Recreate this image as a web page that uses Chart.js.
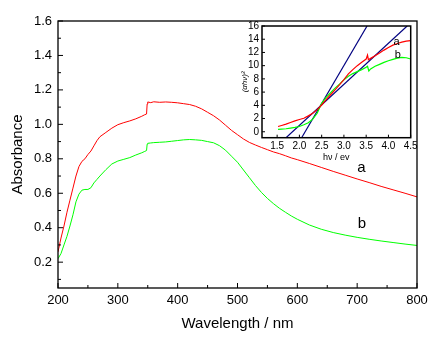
<!DOCTYPE html>
<html><head><meta charset="utf-8">
<script src="https://cdn.jsdelivr.net/npm/chart.js@4"></script>
<style>
html,body{margin:0;padding:0;background:#fff;}
#wrap{position:relative;width:444px;height:342px;overflow:hidden;}
#main{position:absolute;left:0;top:0;}
#inset{position:absolute;left:230px;top:14px;}
</style></head><body>
<div id="wrap"><canvas id="main" width="444" height="342"></canvas><canvas id="inset" width="200" height="150"></canvas></div>
<script>
// ---------- main chart data ----------
const wavelength = [200,205,210,215,220,225,230,235,240,245,250,255,260,265,270,280,290,300,310,320,330,340,345,348,349,350,355,360,370,380,390,400,410,420,430,440,450,460,470,480,490,500,510,520,530,540,550,560,570,580,590,600,620,640,660,680,700,720,740,760,780,800];
const absA = [0.26,0.34,0.41,0.49,0.56,0.63,0.70,0.755,0.785,0.80,0.825,0.845,0.875,0.905,0.928,0.953,0.978,0.998,1.010,1.020,1.032,1.047,1.056,1.060,1.118,1.130,1.126,1.131,1.128,1.130,1.128,1.125,1.120,1.115,1.105,1.090,1.070,1.050,1.025,0.995,0.965,0.940,0.915,0.895,0.880,0.866,0.853,0.840,0.830,0.818,0.805,0.795,0.773,0.750,0.727,0.705,0.683,0.662,0.640,0.620,0.600,0.579];
const absB = [0.22,0.25,0.30,0.35,0.41,0.475,0.55,0.595,0.618,0.622,0.622,0.632,0.66,0.68,0.70,0.737,0.770,0.787,0.797,0.807,0.822,0.835,0.843,0.848,0.885,0.890,0.892,0.894,0.896,0.898,0.902,0.906,0.910,0.912,0.910,0.907,0.900,0.893,0.876,0.850,0.815,0.780,0.735,0.690,0.645,0.605,0.570,0.540,0.513,0.490,0.468,0.449,0.416,0.391,0.372,0.357,0.344,0.333,0.323,0.314,0.305,0.297];
const xTicks = [200,300,400,500,600,700,800];
const xMinorTicks = [250,350,450,550,650,750];
const yTicks = [0.2,0.4,0.6,0.8,1.0,1.2,1.4,1.6];
const yMinorTicks = [0.1,0.3,0.5,0.7,0.9,1.1,1.3,1.5];
const mainLabels = [{t:'a', x:707, y:0.745}, {t:'b', x:708, y:0.42}];

// ---------- inset data ----------
const hvA = [1.52,1.6,1.7,1.8,1.9,2.0,2.1,2.2,2.3,2.4,2.5,2.6,2.7,2.8,2.9,3.0,3.1,3.2,3.3,3.4,3.5,3.53,3.55,3.6,3.7,3.8,3.9,4.0,4.1,4.2,4.3,4.4,4.5];
const taucA = [0.8,0.95,1.15,1.4,1.65,1.85,2.05,2.4,2.8,3.35,4.05,4.85,5.6,6.35,7.1,7.9,8.75,9.4,10.0,10.5,11.0,11.6,10.9,11.1,11.5,11.9,12.35,12.75,13.1,13.35,13.55,13.7,13.8];
const hvB = [1.52,1.6,1.7,1.8,1.9,2.0,2.1,2.2,2.3,2.4,2.5,2.6,2.7,2.8,2.9,3.0,3.1,3.2,3.3,3.4,3.5,3.53,3.56,3.6,3.7,3.8,3.9,4.0,4.1,4.2,4.3,4.4,4.5];
const taucB = [0.35,0.4,0.45,0.55,0.65,0.8,1.05,1.35,1.9,2.8,4.3,5.2,5.9,6.6,7.2,7.85,8.4,8.8,9.1,9.4,9.75,9.9,9.2,9.5,9.9,10.2,10.5,10.75,10.95,11.15,11.25,11.2,11.0];
const fitSteepHv = [2.05,3.52];
const fitSteepY = [-0.9,16];
const fitShallowHv = [1.70,4.42];
const fitShallowY = [-0.9,16];
const insetXTicks = [1.5,2.0,2.5,3.0,3.5,4.0,4.5];
const insetYTicks = [0,2,4,6,8,10,12,14,16];
const insetLabels = [{t:'a', x:4.18, y:13.6}, {t:'b', x:4.21, y:11.6}];

const FONT = "'Liberation Sans', Arial, sans-serif";
const pts = (xs, ys) => xs.map((x,i)=>({x, y: ys[i]}));

const frameTicks = {
  id: 'frameTicks',
  afterDatasetsDraw(chart, args, o) {
    const {ctx, chartArea: a} = chart;
    const xs = chart.scales.x, ys = chart.scales.y;
    ctx.save();
    ctx.strokeStyle = '#000';
    ctx.lineWidth = o.lw;
    ctx.beginPath();
    const seg = (x1,y1,x2,y2)=>{ctx.moveTo(x1,y1);ctx.lineTo(x2,y2);};
    o.xMajor.forEach(v=>{const p=xs.getPixelForValue(v); seg(p,a.bottom,p,a.bottom-o.major);});
    o.xMinor.forEach(v=>{const p=xs.getPixelForValue(v); seg(p,a.bottom,p,a.bottom-o.minor);});
    o.yMajor.forEach(v=>{const p=ys.getPixelForValue(v); seg(a.left,p,a.left+o.major,p);});
    o.yMinor.forEach(v=>{const p=ys.getPixelForValue(v); seg(a.left,p,a.left+o.minor,p);});
    ctx.stroke();
    ctx.lineWidth = o.frame;
    ctx.strokeRect(a.left, a.top, a.right-a.left, a.bottom-a.top);
    ctx.fillStyle = '#000';
    ctx.font = o.labelFont;
    ctx.textAlign = 'center';
    ctx.textBaseline = 'middle';
    o.labels.forEach(l=>ctx.fillText(l.t, xs.getPixelForValue(l.x), ys.getPixelForValue(l.y)));
    ctx.restore();
  }
};

new Chart(document.getElementById('main'), {
  type: 'line',
  data: { datasets: [
    {data: pts(wavelength, absA), borderColor:'#ff0000', borderWidth:1, pointRadius:0, tension:0},
    {data: pts(wavelength, absB), borderColor:'#00ff00', borderWidth:1, pointRadius:0, tension:0}
  ]},
  options: {
    responsive:false, animation:false, events:[],
    layout:{padding:{left:0, top:21, right:27, bottom:0}},
    plugins:{legend:{display:false}, tooltip:{enabled:false},
      frameTicks:{lw:1, frame:1.3, major:5, minor:3, xMajor:xTicks, xMinor:xMinorTicks, yMajor:yTicks, yMinor:yMinorTicks, labels:mainLabels, labelFont:"15px "+FONT}},
    scales:{
      x:{type:'linear', min:200, max:800,
        afterFit(s){s.height=54;},
        afterBuildTicks(s){s.ticks = xTicks.map(v=>({value:v}));},
        grid:{display:false, drawTicks:false}, border:{display:false},
        ticks:{autoSkip:false, maxRotation:0, padding:5, color:'#000', font:{family:FONT, size:13}, callback:v=>String(v)},
        title:{display:true, text:'Wavelength / nm', color:'#000', font:{family:FONT, size:15}, padding:9}
      },
      y:{type:'linear', min:0.05, max:1.6,
        afterFit(s){s.width=58;},
        afterBuildTicks(s){s.ticks = yTicks.map(v=>({value:v}));},
        grid:{display:false, drawTicks:false}, border:{display:false},
        ticks:{autoSkip:false, padding:6, color:'#000', font:{family:FONT, size:13}, callback:v=>Number(v).toFixed(1)},
        title:{display:true, text:'Absorbance', color:'#000', font:{family:FONT, size:15}, padding:9}
      }
    }
  },
  plugins:[frameTicks]
});

new Chart(document.getElementById('inset'), {
  type: 'line',
  data: { datasets: [
    {data: pts(hvA, taucA), borderColor:'#ff0000', borderWidth:1.2, pointRadius:0, tension:0},
    {data: pts(hvB, taucB), borderColor:'#00ff00', borderWidth:1.2, pointRadius:0, tension:0},
    {data: pts(fitSteepHv, fitSteepY), borderColor:'#000080', borderWidth:1.2, pointRadius:0, tension:0},
    {data: pts(fitShallowHv, fitShallowY), borderColor:'#000080', borderWidth:1.2, pointRadius:0, tension:0}
  ]},
  options: {
    responsive:false, animation:false, events:[],
    layout:{padding:{left:0, top:12, right:19.3, bottom:0}},
    plugins:{legend:{display:false}, tooltip:{enabled:false},
      frameTicks:{lw:1, frame:1.5, major:3, minor:0, xMajor:insetXTicks, xMinor:[], yMajor:insetYTicks, yMinor:[], labels:insetLabels, labelFont:"11px "+FONT}},
    scales:{
      x:{type:'linear', min:1.16, max:4.5,
        afterFit(s){s.height=26.3;},
        afterBuildTicks(s){s.ticks = insetXTicks.map(v=>({value:v}));},
        grid:{display:false, drawTicks:false}, border:{display:false},
        ticks:{autoSkip:false, maxRotation:0, padding:3, color:'#000', font:{family:FONT, size:10}, callback:v=>Number(v).toFixed(1)},
        title:{display:true, text:'hν / ev', color:'#000', font:{family:FONT, size:9}, padding:1}
      },
      y:{type:'linear', min:-0.9, max:16,
        afterFit(s){s.width=32;},
        afterBuildTicks(s){s.ticks = insetYTicks.map(v=>({value:v}));},
        grid:{display:false, drawTicks:false}, border:{display:false},
        ticks:{autoSkip:false, padding:3, color:'#000', font:{family:FONT, size:10}, callback:v=>String(v)},
        title:{display:true, text:'(αhν)²', color:'#000', font:{family:FONT, size:8, style:'italic'}, padding:10}
      }
    }
  },
  plugins:[frameTicks]
});
</script>
</body></html>
